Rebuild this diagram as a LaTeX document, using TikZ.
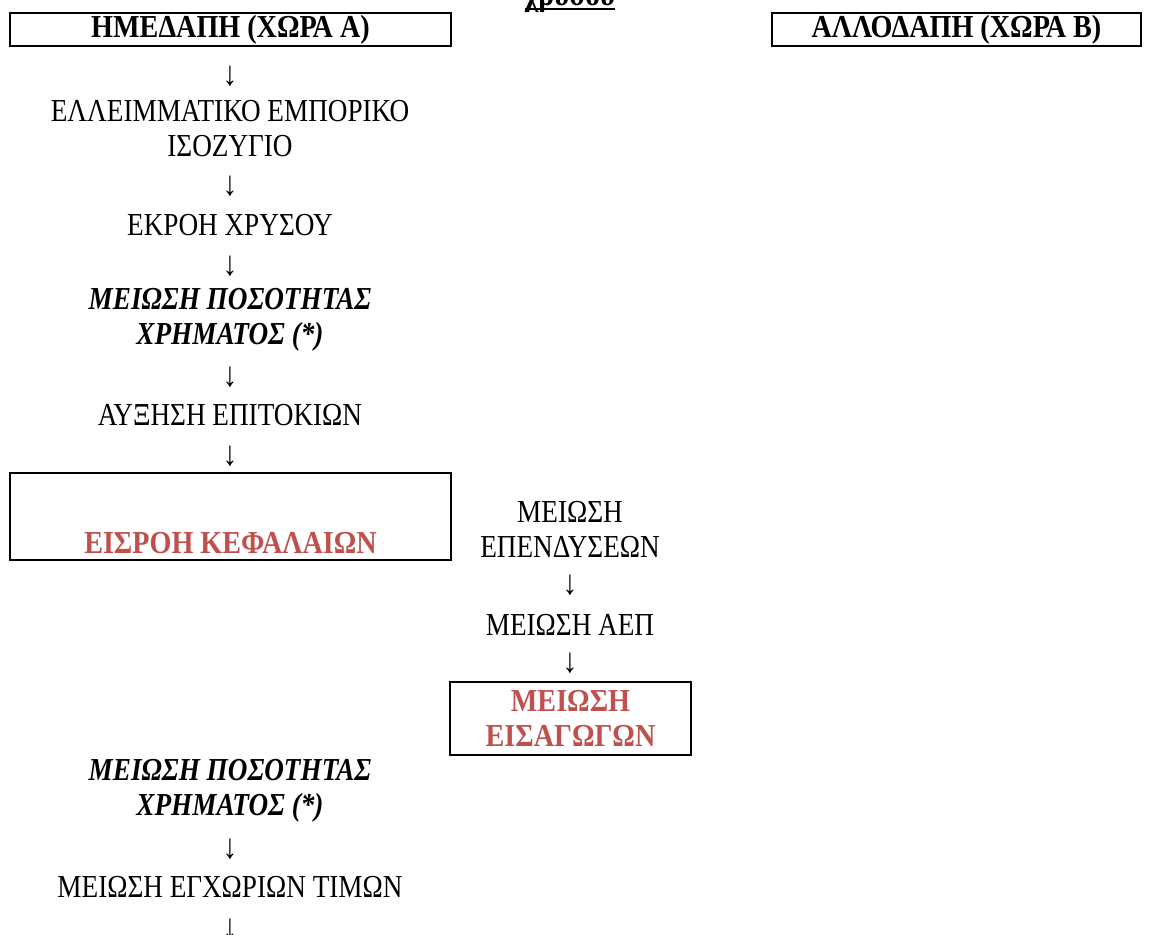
\documentclass[tikz,border=0pt]{standalone}
\usepackage{fontspec}
\setmainfont{Liberation Serif}[FakeStretch=0.85,BoldFeatures={FakeStretch=0.88},BoldItalicFeatures={FakeStretch=0.85}]
\definecolor{accred}{RGB}{192,80,77}
\begin{document}
\begin{tikzpicture}[x=0.75pt,y=-0.75pt,
  every node/.style={inner sep=0pt,outer sep=0pt},
  txt/.style={font=\fontsize{24}{26.25}\selectfont,align=center},
  btxt/.style={txt,font=\fontsize{24}{26.25}\selectfont\bfseries},
  bitxt/.style={txt,font=\fontsize{24}{26.25}\selectfont\bfseries\itshape},
  rtxt/.style={btxt,text=accred},
  arrowglyph/.style={txt,font=\fontsize{26}{26.25}\selectfont},
  frame/.style={draw,line width=1.5pt}]
\useasboundingbox (0,0) rectangle (1153,935);
% top heading (cut off)
\node[btxt,anchor=base,font=\fontsize{25}{26.25}\selectfont\bfseries\addfontfeatures{FakeStretch=0.95}] (head) at (570,6) {χρυσού};
\draw[line width=1.6pt] ([yshift=-2.2pt]head.base west) -- ([yshift=-2.2pt]head.base east);
% boxes
\node[frame,btxt,minimum width=330.75pt,minimum height=24.75pt] (hA) at (230.5,29.5) {ΗΜΕΔΑΠΗ (ΧΩΡΑ Α)};
\node[frame,btxt,minimum width=276.75pt,minimum height=24.75pt] (hB) at (956.5,29.5) {ΑΛΛΟΔΑΠΗ (ΧΩΡΑ Β)};
% left column
\node[arrowglyph] (a1) at (230,76) {↓};
\node[txt] (n1) at (230,129) {ΕΛΛΕΙΜΜΑΤΙΚΟ ΕΜΠΟΡΙΚΟ\\ΙΣΟΖΥΓΙΟ};
\node[arrowglyph] (a2) at (230,186) {↓};
\node[txt] (n2) at (230,225) {ΕΚΡΟΗ ΧΡΥΣΟΥ};
\node[arrowglyph] (a3) at (230,266) {↓};
\node[bitxt] (n3) at (230,319.5) {ΜΕΙΩΣΗ ΠΟΣΟΤΗΤΑΣ\\ΧΡΗΜΑΤΟΣ (*)};
\node[arrowglyph] (a4) at (230,377) {↓};
\node[txt] (n4) at (230,415) {ΑΥΞΗΣΗ ΕΠΙΤΟΚΙΩΝ};
\node[arrowglyph] (a5) at (230,456) {↓};
\node[frame,minimum width=330.75pt,minimum height=65.25pt] (inbox) at (230.5,516.5) {};
\node[rtxt] (n5) at (230.5,543) {ΕΙΣΡΟΗ ΚΕΦΑΛΑΙΩΝ};
% right column
\node[txt] (m1) at (570,529) {ΜΕΙΩΣΗ\\ΕΠΕΝΔΥΣΕΩΝ};
\node[arrowglyph] (b1) at (570,585) {↓};
\node[txt] (m2) at (570,625) {ΜΕΙΩΣΗ ΑΕΠ};
\node[arrowglyph] (b2) at (570,663) {↓};
\node[frame,rtxt,minimum width=180.75pt,minimum height=54.75pt] (m3) at (570.5,718.5) {ΜΕΙΩΣΗ\\ΕΙΣΑΓΩΓΩΝ};
% lower left
\node[bitxt] (n6) at (230,790.5) {ΜΕΙΩΣΗ ΠΟΣΟΤΗΤΑΣ\\ΧΡΗΜΑΤΟΣ (*)};
\node[arrowglyph] (a6) at (230,849) {↓};
\node[txt] (n7) at (230,887) {ΜΕΙΩΣΗ ΕΓΧΩΡΙΩΝ ΤΙΜΩΝ};
\node[arrowglyph] (a7) at (230,929) {↓};
\end{tikzpicture}
\end{document}
